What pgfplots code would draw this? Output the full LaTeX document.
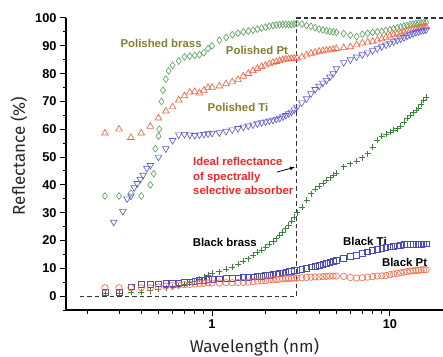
\documentclass[border=0pt]{standalone}
\usepackage{fontspec}
\setmainfont{Liberation Sans}
\newfontfamily\labelfont{Fira Sans}
\usepackage{pgfplots}
\pgfplotsset{compat=1.18}
\definecolor{brassgreen}{RGB}{95,165,95}
\definecolor{ptred}{RGB}{250,95,65}
\definecolor{tiblue}{RGB}{95,95,210}
\definecolor{bbgreen}{RGB}{55,135,55}
\definecolor{bptred}{RGB}{250,105,75}
\definecolor{btiblue}{RGB}{75,75,200}
\definecolor{olivelab}{RGB}{128,128,50}
\definecolor{redlab}{RGB}{250,35,35}
\begin{document}
\begin{tikzpicture}
\begin{semilogxaxis}[
  scale only axis, width=377pt, height=292pt,
  xmin=0.151, xmax=19.9, ymin=-5, ymax=100,
  axis lines=left,
  axis line style={line width=1.2pt, -},
  clip=false,
  xtick={1,10}, xticklabels={1,10},
  minor xtick={0.2,0.3,0.4,0.5,0.6,0.7,0.8,0.9,2,3,4,5,6,7,8,9},
  ytick={0,10,...,100},
  minor ytick={-5,5,15,25,35,45,55,65,75,85,95},
  tick align=outside,
  major tick length=6pt, minor tick length=3.5pt,
  tick style={black, line width=1pt},
  /pgf/number format/assume math mode=true,
  tick label style={font=\bfseries\fontsize{12.8}{14}\selectfont},
  only marks,
]
% ideal reflectance
\addplot[sharp plot, no marks, dash pattern=on 4.5pt off 3pt, line width=1.1pt, black!80] coordinates {(0.18,0) (3,0) (3,100) (19.9,100)};

% Polished brass
\addplot[only marks, mark=diamond, mark size=3.4pt, brassgreen, mark options={line width=0.65pt}] table {
0.25 36
0.30 36
0.35 37
0.40 36
0.45 40
0.47 44
0.48 53
0.50 57.5
0.505 60
0.52 70
0.53 74
0.55 78
0.57 81
0.60 83
0.65 84.5
0.70 86
0.75 86.3
0.80 86.5
0.85 86.8
0.90 87.5
0.95 89
1.0 90
1.1 92
1.2 93
1.3 94
1.4 94.5
1.5 95
1.6 95.3
1.7 95.6
1.8 96
1.9 96.4
2.0 96.7
2.1 97
2.2 97.3
2.3 97.5
2.4 97.6
2.5 97.7
2.6 97.7
2.7 97.6
2.8 97.6
2.9 97.8
3.0 98
3.2 97.8
3.4 97.3
3.6 97
3.8 96.5
4.0 96
4.2 95.7
4.4 95.4
4.6 95.2
4.8 95
5.0 94.8
5.5 94.4
6.0 93.8
6.5 93.3
7.0 94.2
7.5 94.5
8.0 94.8
8.5 95
9.0 95.2
9.5 95.5
10 95.8
10.5 96.2
11 96.5
11.5 96.8
12 97
12.5 97.3
13 97.6
13.5 97.8
14 98
14.5 98.1
15 98.2
15.5 98.3
16 98.4
};

% Polished Pt
\addplot[only marks, mark=triangle, mark size=3.8pt, ptred, mark options={line width=0.65pt}] table {
0.25 58.6
0.30 60
0.35 57
0.40 58.6
0.45 61
0.50 64
0.55 66.5
0.60 68
0.65 70.5
0.70 72
0.75 73.3
0.80 73.5
0.85 73
0.90 74
0.95 75
1.0 75
1.1 75.5
1.2 76.3
1.3 77
1.4 77.8
1.5 79
1.6 80
1.7 81
1.8 81.8
1.9 82.5
2.0 83
2.1 83.5
2.2 84
2.3 84.3
2.4 84.6
2.5 85
2.6 85.2
2.7 85.3
2.8 85.4
2.9 85.5
3.0 85.6
3.2 86
3.4 86.7
3.6 87.3
3.8 87.6
4.0 88
4.2 88.2
4.4 88.4
4.6 88.5
4.8 88.7
5.0 89
5.5 89.3
6.0 89.6
6.5 90.3
7.0 91
7.5 91.3
8.0 91.6
8.5 92
9.0 92.5
9.5 93
10 93.5
10.5 94
11 94.3
11.5 94.6
12 95
12.5 95.3
13 95.6
13.5 95.9
14 96.1
14.5 96.3
15 96.5
15.5 96.7
16 96.8
};

% Polished Ti
\addplot[only marks, mark=triangle, mark size=3.8pt, tiblue, mark options={line width=0.65pt, rotate=180}] table {
0.28 26.6
0.315 30.5
0.333 35
0.35 36
0.365 39
0.38 40.5
0.395 42
0.41 43.5
0.43 46
0.45 47
0.50 50
0.55 53
0.60 56
0.65 58
0.70 58.2
0.75 58
0.80 57.8
0.85 58
0.90 58.2
0.95 58.4
1.0 58.6
1.1 58.8
1.2 59.3
1.3 59.8
1.4 60.3
1.5 60.8
1.6 61.2
1.7 61.6
1.8 62
1.9 62.4
2.0 62.7
2.1 63
2.2 63.3
2.3 63.6
2.4 64
2.5 64.5
2.6 65
2.7 65.6
2.8 66.2
2.9 67
3.0 68
3.2 69.5
3.4 71
3.6 72.8
3.8 74.3
4.0 75.5
4.2 76.6
4.4 77.6
4.6 78.8
4.8 80
5.0 81.8
5.5 84
6.0 85
6.5 86
7.0 86.8
7.5 87.5
8.0 88.3
8.5 89
9.0 89.7
9.5 90.3
10 90.9
10.5 91.5
11 92
11.5 92.5
12 93
12.5 93.5
13 94
13.5 94.4
14 94.8
14.5 95.1
15 95.4
15.5 95.6
16 95.8
};

% Black brass
\addplot[only marks, mark=+, mark size=3pt, bbgreen, mark options={line width=0.65pt}] table {
0.25 1
0.30 1
0.35 1.5
0.40 1.5
0.45 2
0.50 2.5
0.55 3
0.60 3.3
0.65 3.8
0.70 4.3
0.75 4.8
0.80 5.3
0.85 6
0.90 6.7
0.95 7.5
1.0 8.2
1.1 8.8
1.2 9.6
1.3 10.5
1.4 11.5
1.5 12.5
1.6 13.5
1.7 14.6
1.8 15.7
1.9 16.6
2.0 17.5
2.1 18.6
2.2 19.6
2.3 20.6
2.4 21.8
2.5 23
2.6 24.2
2.7 25.5
2.8 27
2.9 28.5
3.0 30
3.2 32
3.4 34.5
3.6 36.8
3.8 38.5
4.0 39.6
4.2 40.6
4.4 41.6
4.6 42.6
4.8 43.5
5.0 44.3
5.5 46.5
6.0 47.6
6.5 48.6
7.0 49.8
7.5 51.2
8.0 53.5
8.5 56
9.0 57.5
9.5 58.3
10 59
10.5 59.6
11 60.2
11.5 61
12 62.5
12.5 64
13 65
13.5 66
14 66.8
14.5 67.6
15 69
15.5 70.5
16 71.5
};

% Black Ti
\addplot[only marks, mark=square, mark size=2.9pt, btiblue, mark options={line width=0.65pt}] table {
0.25 1.5
0.30 1.5
0.35 3.3
0.40 4.3
0.45 4.3
0.50 4.4
0.55 4.5
0.60 4.6
0.65 4.7
0.70 4.9
0.75 5.1
0.80 5.3
0.85 5.6
0.90 5.8
0.95 6
1.0 6.1
1.1 6.2
1.2 6.4
1.3 6.5
1.4 6.6
1.5 6.7
1.6 6.8
1.7 6.9
1.8 7
1.9 7.2
2.0 7.4
2.1 7.6
2.2 7.8
2.3 8
2.4 8.2
2.5 8.4
2.6 8.6
2.7 8.8
2.8 9
2.9 9.2
3.0 9.4
3.2 9.7
3.4 10.1
3.6 10.5
3.8 10.8
4.0 11.2
4.2 11.5
4.4 11.8
4.6 12.2
4.8 12.6
5.0 12.9
5.5 13.6
6.0 14.2
6.5 14.7
7.0 15.3
7.5 15.9
8.0 16.4
8.5 16.8
9.0 17.2
9.5 17.5
10 17.7
10.5 17.9
11 18.1
11.5 18.3
12 18.5
12.5 18.6
13 18.7
13.5 18.7
14 18.7
14.5 18.7
15 18.7
15.5 18.8
16 18.8
};

% Black Pt
\addplot[only marks, mark=o, mark size=3.2pt, bptred, mark options={line width=0.65pt}] table {
0.25 3
0.30 3
0.35 3
0.40 3
0.45 3
0.50 3.3
0.55 3.6
0.60 3.8
0.65 4
0.70 4.1
0.75 4.2
0.80 4.3
0.85 4.5
0.90 4.6
0.95 4.7
1.0 4.7
1.1 4.7
1.2 4.8
1.3 4.8
1.4 4.9
1.5 4.9
1.6 5
1.7 5.2
1.8 5.4
1.9 5.5
2.0 5.6
2.1 5.8
2.2 5.9
2.3 6
2.4 6.1
2.5 6.2
2.6 6.3
2.7 6.4
2.8 6.4
2.9 6.5
3.0 6.5
3.2 6.6
3.4 6.7
3.6 6.8
3.8 6.9
4.0 6.9
4.2 7
4.4 7.1
4.6 7.2
4.8 7.2
5.0 7.2
5.5 7.1
6.0 6.7
6.5 6.5
7.0 6.6
7.5 6.8
8.0 7
8.5 7.2
9.0 7.3
9.5 7.4
10 7.7
10.5 8
11 8.2
11.5 8.4
12 8.6
12.5 8.8
13 9
13.5 9.1
14 9.2
14.5 9.3
15 9.4
15.5 9.5
16 9.5
};

\tikzset{lab/.style={inner sep=0pt, font=\bfseries\fontsize{11.4}{14.5}\selectfont}}
\node[lab, text=olivelab] at (axis cs:0.517,91) {Polished brass};
\node[lab, text=olivelab] at (axis cs:1.79,88.5) {Polished Pt};
\node[lab, text=olivelab] at (axis cs:1.40,68) {Polished Ti};
\node[lab, text=redlab, anchor=west, align=left] at (axis cs:0.782,43.2) {Ideal reflectance\\of spectrally\\selective absorber};
\node[lab] at (axis cs:1.18,19.4) {Black brass};
\node[lab] at (axis cs:7.24,19.8) {Black Ti};
\node[lab] at (axis cs:12.1,12.2) {Black Pt};
\draw[-latex, line width=0.8pt] (axis cs:2.32,44.6) -- (axis cs:2.93,46.4);
\end{semilogxaxis}
\node[rotate=90, text=black!85, font=\labelfont\fontsize{17}{20}\selectfont] at ([xshift=-47pt,yshift=8pt]current axis.west) {Reflectance (\%)};
\node[anchor=base, text=black!85, font=\labelfont\fontsize{17}{20}\selectfont] at ([yshift=-42pt]current axis.south) {Wavelength (nm)};
\pgfresetboundingbox
\path[use as bounding box] ([xshift=-66pt,yshift=-46pt]current axis.south west) rectangle ([yshift=18pt]current axis.north east);
\end{tikzpicture}
\end{document}
